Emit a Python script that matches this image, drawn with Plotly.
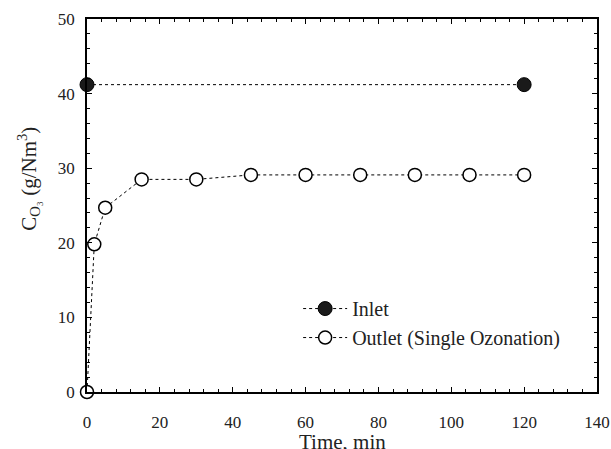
import plotly.graph_objects as go

inlet_time = [0, 120]
inlet_conc = [41.2, 41.2]
outlet_time = [0, 2, 5, 15, 30, 45, 60, 75, 90, 105, 120]
outlet_conc = [0, 19.8, 24.7, 28.5, 28.5, 29.1, 29.1, 29.1, 29.1, 29.1, 29.1]

FONT = "Liberation Serif"

fig = go.Figure()
fig.add_trace(go.Scatter(
    x=inlet_time, y=inlet_conc, name="Inlet", mode="lines+markers",
    line=dict(color="black", width=1, dash="dot"),
    marker=dict(symbol="circle", size=14, color="#1a1a1a", line=dict(color="black", width=1)),
    cliponaxis=False))
fig.add_trace(go.Scatter(
    x=outlet_time, y=outlet_conc, name="Outlet (Single Ozonation)", mode="lines+markers",
    line=dict(color="black", width=1, dash="dot"),
    marker=dict(symbol="circle", size=13, color="white", line=dict(color="black", width=1.5)),
    cliponaxis=False))

axis_common = dict(
    showline=True, linecolor="black", linewidth=1.5, mirror="allticks",
    ticks="inside", ticklen=5, tickwidth=1, tickcolor="black",
    showgrid=False, zeroline=False, automargin=False,
    tickfont=dict(family=FONT, size=17, color="#222"),
)
fig.update_xaxes(range=[0, 140], tick0=0, dtick=20,
                 minor=dict(ticks="inside", dtick=4, ticklen=3, tickcolor="black", showgrid=False),
                 ticklabelstandoff=14,
                 **axis_common)
fig.update_yaxes(range=[0, 50], tick0=0, dtick=10,
                 minor=dict(ticks="inside", dtick=2, ticklen=3, tickcolor="black", showgrid=False),
                 ticklabelstandoff=7,
                 **axis_common)

fig.add_annotation(
    text="Time, min",
    xref="paper", yref="paper", x=0.5, y=-0.133, xanchor="center", yanchor="middle",
    showarrow=False, font=dict(family=FONT, size=21, color="#222"))
fig.add_annotation(
    text="C<sub>O₃</sub> (g/Nm<sup>3</sup>)", textangle=-90,
    xref="paper", yref="paper", x=-0.116, y=0.571, xanchor="center", yanchor="middle",
    showarrow=False, font=dict(family=FONT, size=21, color="#222"))

fig.update_layout(
    width=611, height=449,
    margin=dict(l=87, r=14, t=19, b=57),
    plot_bgcolor="white", paper_bgcolor="white",
    showlegend=True,
    legend=dict(x=0.414, y=0.276, xanchor="left", yanchor="top",
                bgcolor="rgba(0,0,0,0)", itemwidth=44,
                font=dict(family=FONT, size=20, color="#222")),
)

# remove the browser's default 8px page margin so the figure fills the window
fig.write_html("out.html", config={"displayModeBar": False},
               post_script="document.body.style.margin='0';document.body.style.overflow='hidden';")
